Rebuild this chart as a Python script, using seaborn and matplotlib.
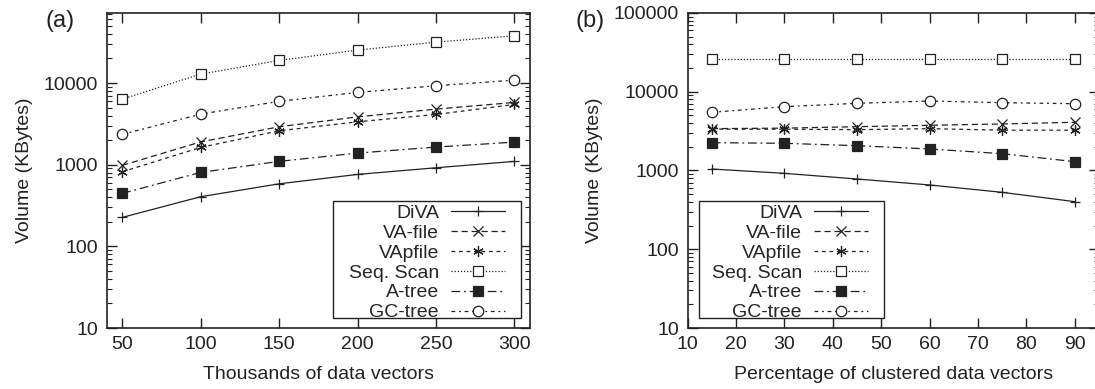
import matplotlib
matplotlib.use('Agg')
import matplotlib.pyplot as plt
import matplotlib.ticker as mticker
from matplotlib.patches import Rectangle
import seaborn as sns

# data
x_a = [50, 100, 150, 200, 250, 300]
diva_a = [226, 405, 583, 760, 916, 1097]
vafile_a = [980, 1900, 2910, 3850, 4790, 5780]
vapfile_a = [818, 1625, 2600, 3350, 4120, 5460]
seqscan_a = [6350, 12850, 18900, 25300, 31700, 37800]
atree_a = [445, 804, 1097, 1387, 1642, 1890]
gctree_a = [2350, 4160, 5960, 7680, 9250, 10850]

x_b = [15, 30, 45, 60, 75, 90]
diva_b = [1045, 920, 780, 655, 528, 402]
vafile_b = [3400, 3450, 3600, 3750, 3900, 4100]
vapfile_b = [3350, 3350, 3300, 3400, 3250, 3250]
seqscan_b = [26000, 26000, 26000, 26000, 26000, 26000]
atree_b = [2255, 2215, 2065, 1876, 1635, 1295]
gctree_b = [5480, 6460, 7130, 7630, 7260, 7050]

labels = ['DiVA', 'VA-file', 'VApfile', 'Seq. Scan', 'A-tree', 'GC-tree']

sns.set_style('ticks')
plt.rcParams['font.family'] = ['Liberation Sans', 'DejaVu Sans']

ink = '#222222'
fs = 14
styles = {
    'DiVA': dict(ls='-', marker='+', mfc=ink),
    'VA-file': dict(ls=(0, (5, 3)), marker='x', mfc=ink),
    'VApfile': dict(ls=(0, (3, 3)), marker=(6, 2, 0), mfc=ink),
    'Seq. Scan': dict(ls=(0, (1, 1.5)), marker='s', mfc='white'),
    'A-tree': dict(ls=(0, (7, 3, 1.5, 3)), marker='s', mfc=ink),
    'GC-tree': dict(ls=(0, (3, 3, 1.5, 3)), marker='o', mfc='white'),
}

fig = plt.figure(figsize=(10.95, 3.89), dpi=100)
ax_a = fig.add_axes([0.0973, 0.1568, 0.3868, 0.8098])
ax_b = fig.add_axes([0.6279, 0.1568, 0.3758, 0.8098])

panels = [
    (ax_a, x_a, [diva_a, vafile_a, vapfile_a, seqscan_a, atree_a, gctree_a]),
    (ax_b, x_b, [diva_b, vafile_b, vapfile_b, seqscan_b, atree_b, gctree_b]),
]

for ax, xs, series in panels:
    for name, ys in zip(labels, series):
        st = styles[name]
        sns.lineplot(x=xs, y=ys, ax=ax, label=name, color=ink, linewidth=0.9,
                     linestyle=st['ls'], marker=st['marker'], markersize=7.5,
                     markerfacecolor=st['mfc'], markeredgecolor=ink,
                     markeredgewidth=0.9)
    ax.set_yscale('log')
    for s in ax.spines.values():
        s.set_visible(True)
        s.set_color(ink)
        s.set_linewidth(1.2)
    ax.tick_params(which='major', direction='in', length=7, width=1, colors=ink,
                   labelsize=fs, labelcolor=ink, top=True, right=True, pad=6)
    ax.tick_params(which='minor', direction='in', length=3.5, width=0.8, colors=ink,
                   top=True, right=True)
    ax.tick_params(axis='x', which='minor', bottom=False, top=False)
    ax.yaxis.set_major_formatter(mticker.FuncFormatter(lambda v, p: '%d' % v))
    ax.yaxis.set_minor_formatter(mticker.NullFormatter())
    ax.yaxis.set_minor_locator(mticker.LogLocator(base=10, subs=range(2, 10)))
    ax.set_ylabel('Volume (KBytes)', fontsize=fs, color=ink, labelpad=8)

ax_a.set_xlim(40, 310)
ax_a.set_ylim(10, 72000)
ax_a.set_xticks(x_a)
ax_a.set_xlabel('Thousands of data vectors', fontsize=fs, color=ink, labelpad=9)

ax_b.set_xlim(10, 95)
ax_b.set_ylim(10, 100000)
ax_b.set_xticks([10, 20, 30, 40, 50, 60, 70, 80, 90])
ax_b.set_xlabel('Percentage of clustered data vectors', fontsize=fs, color=ink, labelpad=9)

# gnuplot-style key: square box drawn separately, entries placed inside it
leg_kw = dict(markerfirst=False, fontsize=fs, handlelength=2.8, handletextpad=0.6,
              labelspacing=0.12, borderpad=0, borderaxespad=0, frameon=False)
for ax, box, anchor in [(ax_a, (0.535, 0.032, 0.444, 0.371), (0.941, 0.021)),
                        (ax_b, (0.028, 0.032, 0.4496, 0.371), (0.4386, 0.021))]:
    ax.add_patch(Rectangle(box[:2], box[2], box[3], transform=ax.transAxes,
                           facecolor='white', edgecolor=ink, linewidth=1.0, zorder=4))
    ax.legend(loc='lower right', bbox_to_anchor=anchor, **leg_kw)

fig.text(0.042, 0.945, '(a)', fontsize=17, color=ink, va='center')
fig.text(0.526, 0.945, '(b)', fontsize=17, color=ink, va='center')

fig.savefig('out.png', dpi=100)
